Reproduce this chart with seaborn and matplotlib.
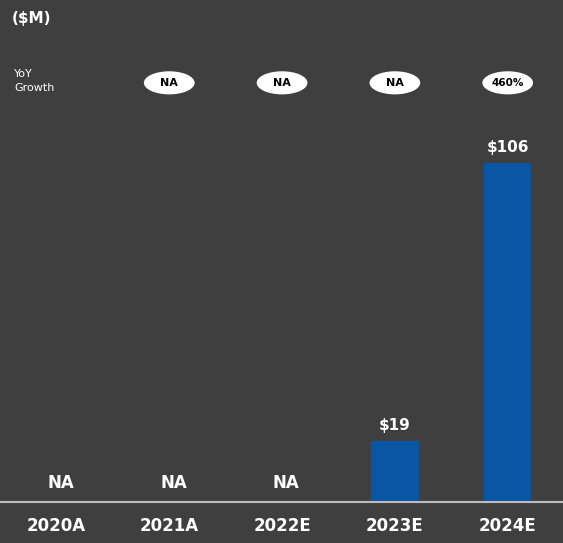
import numpy as np
import pandas as pd
import matplotlib.pyplot as plt
import matplotlib.transforms as mtransforms
from matplotlib.patches import Ellipse
import seaborn as sns

years = ["2020A", "2021A", "2022E", "2023E", "2024E"]
revenue = [np.nan, np.nan, np.nan, 19, 106]
growth = [None, "NA", "NA", "NA", "460%"]

bg = "#3f3f3f"
bar_color = "#0b55a5"

sns.set_style("dark")
plt.rcParams["font.family"] = ["DejaVu Sans"]

df = pd.DataFrame({"Year": years, "Revenue": revenue})

fig = plt.figure(figsize=(5.63, 5.43), dpi=100, facecolor=bg)
ax = fig.add_axes([0, 41 / 543, 1, 1 - 41 / 543])
ax.set_facecolor(bg)

sns.barplot(data=df, x="Year", y="Revenue", order=years, color=bar_color,
            width=0.42, saturation=1, edgecolor="none", linewidth=0, ax=ax)

ax.set_xlim(-0.5, 4.49)
ax.set_ylim(0, 157)
ax.axhline(0, color="#bdbdbd", linewidth=1.5, clip_on=False)

for side in ["top", "right", "left", "bottom"]:
    ax.spines[side].set_visible(False)
ax.grid(False)
ax.set_yticks([])
ax.set_xlabel("")
ax.set_ylabel("")
ax.set_xticks(range(len(years)))
ax.set_xticklabels(years, color="white", fontsize=12, fontweight="bold")
ax.tick_params(axis="x", length=0, pad=11)

# value labels, NA where there's no data
for i, v in enumerate(revenue):
    if np.isnan(v):
        ax.annotate("NA", xy=(i, 0), xytext=(3, 7), textcoords="offset points",
                    ha="center", va="bottom", color="white", fontsize=12, fontweight="bold")
    else:
        ax.annotate(f"${v:.0f}", xy=(i, v), xytext=(0, 6), textcoords="offset points",
                    ha="center", va="bottom", color="white", fontsize=11, fontweight="bold")

# YoY growth pills
trans = mtransforms.blended_transform_factory(ax.transData, ax.transAxes)
for i, g in enumerate(growth):
    if g is None:
        continue
    ax.add_patch(Ellipse((i, 0.835), width=0.45, height=0.046, transform=trans,
                         facecolor="white", edgecolor="none", clip_on=False))
    ax.text(i, 0.835, g, transform=trans, ha="center", va="center",
            color="black", fontsize=7.5 if len(g) > 2 else 8, fontweight="bold")

fig.text(12 / 563, 1 - 18 / 543, "($M)", color="white", fontsize=11,
         fontweight="bold", ha="left", va="center")
fig.text(14 / 563, 1 - 81 / 543, "YoY\nGrowth", color="white", fontsize=8,
         ha="left", va="center", linespacing=1.45)

plt.savefig("out.png", dpi=100, facecolor=bg)
